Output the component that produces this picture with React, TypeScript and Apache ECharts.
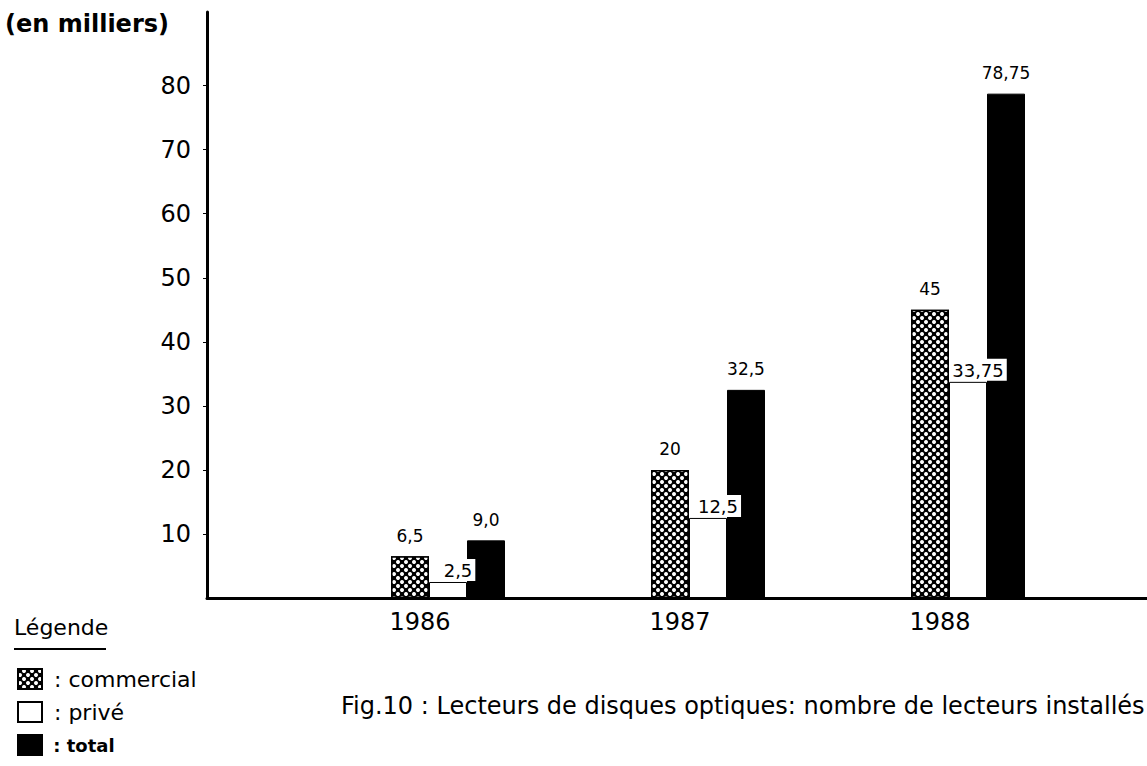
import React, { useEffect, useRef } from 'react';
import * as echarts from 'echarts';

const years = ['1986', '1987', '1988'];
const commercial = [6.5, 20, 45];
const prive = [2.5, 12.5, 33.75];
const total = [9.0, 32.5, 78.75];
const commercialLabels = ['6,5', '20', '45'];
const priveLabels = ['2,5', '12,5', '33,75'];
const totalLabels = ['9,0', '32,5', '78,75'];
const yTicks = [10, 20, 30, 40, 50, 60, 70, 80];
const seriesNames = ['commercial', 'privé', 'total'];

const FONT = 'DejaVu Sans';

export default function App() {
  const ref = useRef<HTMLDivElement>(null);
  useEffect(() => {
    if (!ref.current) return;
    const chart = echarts.init(ref.current, null, { renderer: 'svg' });
    const yMax = 91.5;
    const decal = {
      symbol: 'circle',
      symbolSize: 1,
      color: '#fff',
      backgroundColor: '#000',
      dashArrayX: [[4, 4], [0, 4, 4, 0]],
      dashArrayY: [4, 0],
    };
    chart.setOption({
      animation: false,
      backgroundColor: '#fff',
      textStyle: { fontFamily: FONT, color: '#000' },
      grid: [
        { left: 207, right: 0, top: 12, bottom: 168 },
        { left: 318, right: 49, top: 12, bottom: 168 },
      ],
      xAxis: [
        {
          gridIndex: 0, type: 'value', min: 0, max: 1,
          axisLine: { show: true, lineStyle: { color: '#000', width: 3 } },
          axisTick: { show: false }, axisLabel: { show: false }, splitLine: { show: false },
        },
        {
          gridIndex: 1, type: 'category', data: years,
          axisLine: { show: false }, axisTick: { show: false },
          axisLabel: { fontSize: 24, color: '#000', margin: 12, padding: [0, 56, 0, 0], fontFamily: FONT },
        },
      ],
      yAxis: [
        {
          gridIndex: 0, type: 'value', min: 0, max: yMax,
          axisLine: { show: true, lineStyle: { color: '#000', width: 3 } },
          axisTick: { show: true, length: 4, customValues: yTicks, lineStyle: { color: '#000', width: 1 } },
          axisLabel: { customValues: yTicks, fontSize: 24, color: '#000', margin: 16, fontFamily: FONT },
          splitLine: { show: false },
        },
        {
          gridIndex: 1, type: 'value', min: 0, max: yMax, show: false, splitLine: { show: false },
        },
      ],
      legend: {
        orient: 'vertical', left: 12, top: 663, icon: 'rect',
        itemWidth: 24, itemHeight: 20, itemGap: 11,
        data: seriesNames,
        formatter: (n: string) => (n === 'total' ? '{t| : total}' : ' : ' + n),
        textStyle: {
          fontSize: 22, color: '#000', fontFamily: FONT,
          rich: { t: { fontSize: 18, fontWeight: 'bold', color: '#000', fontFamily: FONT } },
        },
      },
      series: [
        {
          name: seriesNames[0], type: 'bar', xAxisIndex: 1, yAxisIndex: 1, data: commercial,
          barWidth: 38, barGap: '0%',
          itemStyle: { color: '#000', borderColor: '#000', borderWidth: 1.5, decal },
          label: {
            show: true, position: 'top', distance: 12, fontSize: 17, color: '#000',
            formatter: (p: any) => commercialLabels[p.dataIndex],
          },
        },
        {
          name: seriesNames[1], type: 'bar', xAxisIndex: 1, yAxisIndex: 1, data: prive,
          barWidth: 38, barGap: '0%',
          itemStyle: { color: '#fff', borderColor: '#000', borderWidth: 1 },
          label: {
            show: true, position: 'top', distance: 1, offset: [10, 0], fontSize: 18, color: '#000',
            backgroundColor: '#fff', padding: [3, 3, 1, 3],
            formatter: (p: any) => priveLabels[p.dataIndex],
          },
          z: 3,
        },
        {
          name: seriesNames[2], type: 'bar', xAxisIndex: 1, yAxisIndex: 1, data: total,
          barWidth: 38, barGap: '0%',
          itemStyle: { color: '#000', borderColor: '#000', borderWidth: 1 },
          label: {
            show: true, position: 'top', distance: 12, fontSize: 17, color: '#000',
            formatter: (p: any) => totalLabels[p.dataIndex],
          },
          z: 2,
        },
      ],
      graphic: [
        { type: 'text', left: 5, top: 12, style: { text: '(en milliers)', fontSize: 24, fontWeight: 'bold', fill: '#000', fontFamily: FONT } },
        { type: 'text', left: 14, top: 616, style: { text: 'Légende', fontSize: 22, fill: '#000', fontFamily: FONT } },
        { type: 'line', shape: { x1: 14, y1: 649, x2: 106, y2: 649 }, style: { stroke: '#000', lineWidth: 2 } },
        {
          type: 'text', left: 341, top: 694,
          style: { text: 'Fig.10 : Lecteurs de disques optiques: nombre de lecteurs installés', fontSize: 24, fill: '#000', fontFamily: FONT },
        },
      ],
    });
    return () => chart.dispose();
  }, []);
  return <div ref={ref} style={{ position: 'fixed', left: 0, top: 0, width: 1147, height: 766 }} />;
}
